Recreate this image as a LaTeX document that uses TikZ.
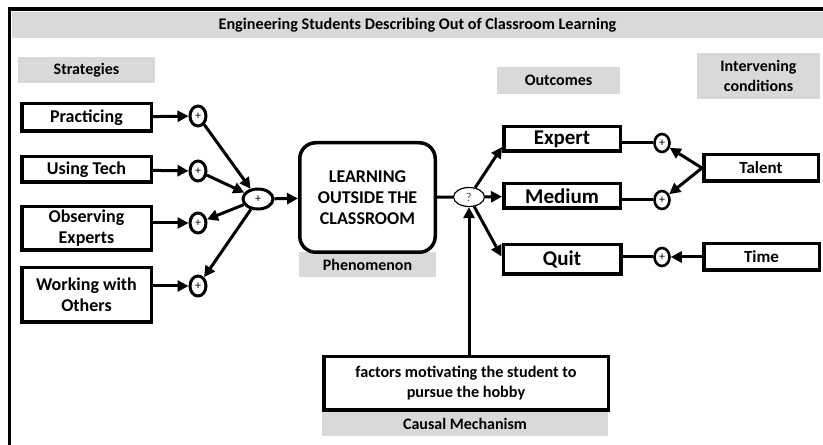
\documentclass[tikz,border=0pt]{standalone}
\usepackage{fontspec}
\setmainfont{Carlito}
\usetikzlibrary{arrows.meta}
\usetikzlibrary{shapes.geometric}
\definecolor{bargray}{HTML}{D9D9D9}
\tikzset{
  box/.style={draw, line width=3.5pt, fill=white, align=center, inner sep=1pt, font=\bfseries\fontsize{18}{21}\selectfont},
  outbox/.style={box, font=\bfseries\fontsize{21}{24}\selectfont},
  condbox/.style={box, font=\bfseries\fontsize{17}{20}\selectfont},
  tag/.style={fill=bargray, align=center, inner sep=1pt, font=\bfseries\fontsize{16}{20}\selectfont},
  plus/.style={draw, ellipse, line width=3pt, fill=white, inner sep=0pt, minimum width=16pt, minimum height=20pt, font=\fontsize{12}{12}\selectfont},
  link/.style={line width=3pt},
  arr/.style={line width=3pt, -{Triangle[length=11pt,width=11pt]}}
}

\begin{document}
\begin{tikzpicture}[x=1pt,y=1pt]
\useasboundingbox (0,0) rectangle (823,445);
% frame and headings
\node[tag, minimum width=811pt, minimum height=26pt, font=\bfseries\fontsize{16.2}{18}\selectfont] (title) at (417.5,420) {Engineering Students Describing Out of Classroom Learning};
\draw[line width=3.5pt] (9.5,0) -- (9.5,436) -- (823,436);
\node[tag, minimum width=137pt, minimum height=26pt] (strat) at (86.5,375) {Strategies};
\node[tag, minimum width=123pt, minimum height=27pt] (outc) at (558.5,364.5) {Outcomes};
\node[tag, minimum width=123pt, minimum height=46pt] (inter) at (758.5,369) {Intervening\\conditions};
\node[tag, minimum width=137pt, minimum height=25pt] (phen) at (367.5,180.5) {Phenomenon};
\node[tag, minimum width=286pt, minimum height=24pt] (cause) at (465,21) {Causal Mechanism};

% strategies
\node[box, minimum width=129.5pt, minimum height=27.5pt] (prac) at (86.5,327.5) {Practicing};
\node[box, minimum width=129.5pt, minimum height=25.5pt] (tech) at (86.5,275.5) {Using Tech};
\node[box, minimum width=129.5pt, minimum height=43.5pt] (obs) at (86.5,216.5) {Observing\\Experts};
\node[box, minimum width=129.5pt, minimum height=54.5pt] (work) at (86.5,150) {Working with\\Others};
\node[plus] (p1) at (198,329) {+};
\node[plus] (p2) at (198,274) {+};
\node[plus] (p3) at (198,222) {+};
\node[plus] (p4) at (198,159) {+};
\node[plus, minimum width=30pt, minimum height=20pt] (sum) at (258,246) {+};

% phenomenon
\node[box, rounded corners=16pt, minimum width=135.5pt, minimum height=109.5pt] (learn) at (367.5,247.5) {LEARNING\\OUTSIDE THE\\CLASSROOM};
\node[draw, ellipse, line width=1.2pt, minimum width=31pt, minimum height=19pt, inner sep=0pt, font=\fontsize{12}{12}\selectfont, text=black!70] (mech) at (469,248) {?};
\node[box, font=\bfseries\fontsize{16.2}{20}\selectfont, minimum width=284.5pt, minimum height=53.5pt] (fact) at (466,61.5) {factors motivating the student to\\pursue the hobby};

% outcomes and conditions
\node[outbox, minimum width=116.5pt, minimum height=24.5pt] (exp) at (562,306) {Expert};
\node[outbox, minimum width=116.5pt, minimum height=24.5pt] (med) at (562,249) {Medium};
\node[outbox, minimum width=117.5pt, minimum height=29.5pt] (quit) at (562,185.5) {Quit};
\node[plus, line width=2.6pt, minimum width=15pt, minimum height=18pt] (ep) at (662,302) {+};
\node[plus, line width=2.6pt, minimum width=15pt, minimum height=18pt] (mp) at (662,245) {+};
\node[plus, line width=2.6pt, minimum width=15pt, minimum height=18pt] (qp) at (662,188) {+};
\node[condbox, minimum width=114.5pt, minimum height=26.5pt] (tal) at (761,277) {Talent};
\node[condbox, minimum width=115.5pt, minimum height=26.5pt] (time) at (761.5,188) {Time};

% connectors
\draw[arr] (prac) -- (p1);
\draw[arr] (tech) -- (p2);
\draw[arr] (obs.east |- p3) -- (p3);
\draw[arr] (work.east |- p4) -- (p4);
\draw[arr] (p1) -- (sum);
\draw[arr] (p2) -- (sum);
\draw[arr] (sum) -- (p3);
\draw[arr] (sum) -- (p4);
\draw[arr] (sum) -- (learn);
\draw[link] (learn) -- (mech);
\draw[arr] (mech) -- ([yshift=-8pt]exp.west);
\draw[arr] (mech) -- (med);
\draw[arr] (mech) -- ([yshift=3pt]quit.west);
\draw[arr] (fact.north -| mech) -- (mech);
\draw[link] (exp.east |- ep) -- (ep);
\draw[link] (med.east |- mp) -- (mp);
\draw[link] (quit.east |- qp) -- (qp);
\draw[arr] (tal.west) -- (ep);
\draw[arr] (tal.west) -- (mp);
\draw[arr] (time) -- (qp);
\end{tikzpicture}
\end{document}
